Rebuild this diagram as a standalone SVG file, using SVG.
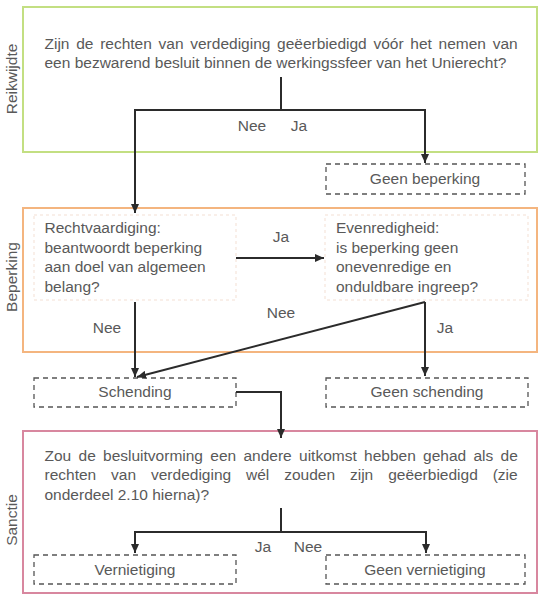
<svg xmlns="http://www.w3.org/2000/svg" width="543" height="600" viewBox="0 0 543 600">
<style>
text{font-family:"Liberation Sans",Arial,sans-serif;font-size:15.5px;fill:#595959}
.mid{text-anchor:middle}
.dash{fill:none;stroke:#555;stroke-width:1.3;stroke-dasharray:5,4}
.faint{fill:none;stroke:#f3dfd3;stroke-width:1;stroke-dasharray:3,3}
.conn{fill:none;stroke:#2b2b2b;stroke-width:2}
</style>
<defs>
<marker id="ah" markerUnits="userSpaceOnUse" markerWidth="9" markerHeight="8" refX="9" refY="4" orient="auto">
<path d="M0,0 L9,4 L0,8 z" fill="#2b2b2b"/>
</marker>
</defs>
<rect width="543" height="600" fill="#fff"/>

<g id="lane-reikwijdte">
<rect x="23" y="7" width="514" height="145" fill="none" stroke="#c3df82" stroke-width="2"/>
<text transform="translate(17,79) rotate(-90)" class="mid">Reikwijdte</text>
</g>
<g id="lane-beperking">
<rect x="23" y="208" width="514" height="144" fill="none" stroke="#f4b57f" stroke-width="2"/>
<text transform="translate(17,277) rotate(-90)" class="mid">Beperking</text>
</g>
<g id="lane-sanctie">
<rect x="23" y="431" width="514" height="162" fill="none" stroke="#d8879f" stroke-width="2"/>
<text transform="translate(17,520) rotate(-90)" class="mid">Sanctie</text>
</g>

<g id="q-reikwijdte">
<text x="44.5" y="49" word-spacing="2.4">Zijn de rechten van verdediging geëerbiedigd vóór het nemen van</text>
<text x="44.5" y="68">een bezwarend besluit binnen de werkingssfeer van het Unierecht?</text>
</g>
<g id="geen-beperking">
<rect class="dash" x="326" y="164" width="199" height="30"/>
<text x="425" y="184" class="mid">Geen beperking</text>
</g>
<g id="rechtvaardiging">
<rect class="faint" x="34" y="215" width="202" height="85"/>
<text x="44.5" y="233">Rechtvaardiging:</text>
<text x="44.5" y="252.5">beantwoordt beperking</text>
<text x="44.5" y="272">aan doel van algemeen</text>
<text x="44.5" y="291.5">belang?</text>
</g>
<g id="evenredigheid">
<rect class="faint" x="325" y="215" width="203" height="85"/>
<text x="336" y="233">Evenredigheid:</text>
<text x="336" y="252.5">is beperking geen</text>
<text x="336" y="272">onevenredige en</text>
<text x="336" y="291.5">onduldbare ingreep?</text>
</g>
<g id="schending">
<rect class="dash" x="34" y="378" width="202" height="29"/>
<text x="135" y="397" class="mid">Schending</text>
</g>
<g id="geen-schending">
<rect class="dash" x="326" y="378" width="202" height="29"/>
<text x="427" y="397" class="mid">Geen schending</text>
</g>
<g id="q-sanctie">
<text x="44.5" y="461" word-spacing="3">Zou de besluitvorming een andere uitkomst hebben gehad als de</text>
<text x="44.5" y="480" word-spacing="10.6">rechten van verdediging wél zouden zijn geëerbiedigd (zie</text>
<text x="44.5" y="500">onderdeel 2.10 hierna)?</text>
</g>
<g id="vernietiging">
<rect class="dash" x="34" y="555" width="202" height="29"/>
<text x="135" y="575" class="mid">Vernietiging</text>
</g>
<g id="geen-vernietiging">
<rect class="dash" x="326" y="555" width="199" height="29"/>
<text x="425" y="575" class="mid">Geen vernietiging</text>
</g>

<g id="connectors">
<path class="conn" d="M281,77 V110"/>
<path class="conn" d="M281,110 H135 V213" marker-end="url(#ah)"/>
<path class="conn" d="M281,110 H425 V163" marker-end="url(#ah)"/>
<path class="conn" d="M236,258 H324" marker-end="url(#ah)"/>
<path class="conn" d="M135,302 V377" marker-end="url(#ah)"/>
<path class="conn" d="M425,302 L137,377" marker-end="url(#ah)"/>
<path class="conn" d="M425,302 V376" marker-end="url(#ah)"/>
<path class="conn" d="M236,392 H281 V438" marker-end="url(#ah)"/>
<path class="conn" d="M281,508 V532"/>
<path class="conn" d="M281,532 H135 V553" marker-end="url(#ah)"/>
<path class="conn" d="M281,532 H426 V553" marker-end="url(#ah)"/>
<text x="252" y="131" class="mid">Nee</text>
<text x="299" y="131" class="mid">Ja</text>
<text x="281" y="242" class="mid">Ja</text>
<text x="107" y="333" class="mid">Nee</text>
<text x="281" y="318" class="mid">Nee</text>
<text x="445" y="333" class="mid">Ja</text>
<text x="263" y="552" class="mid">Ja</text>
<text x="308" y="552" class="mid">Nee</text>
</g>
</svg>
